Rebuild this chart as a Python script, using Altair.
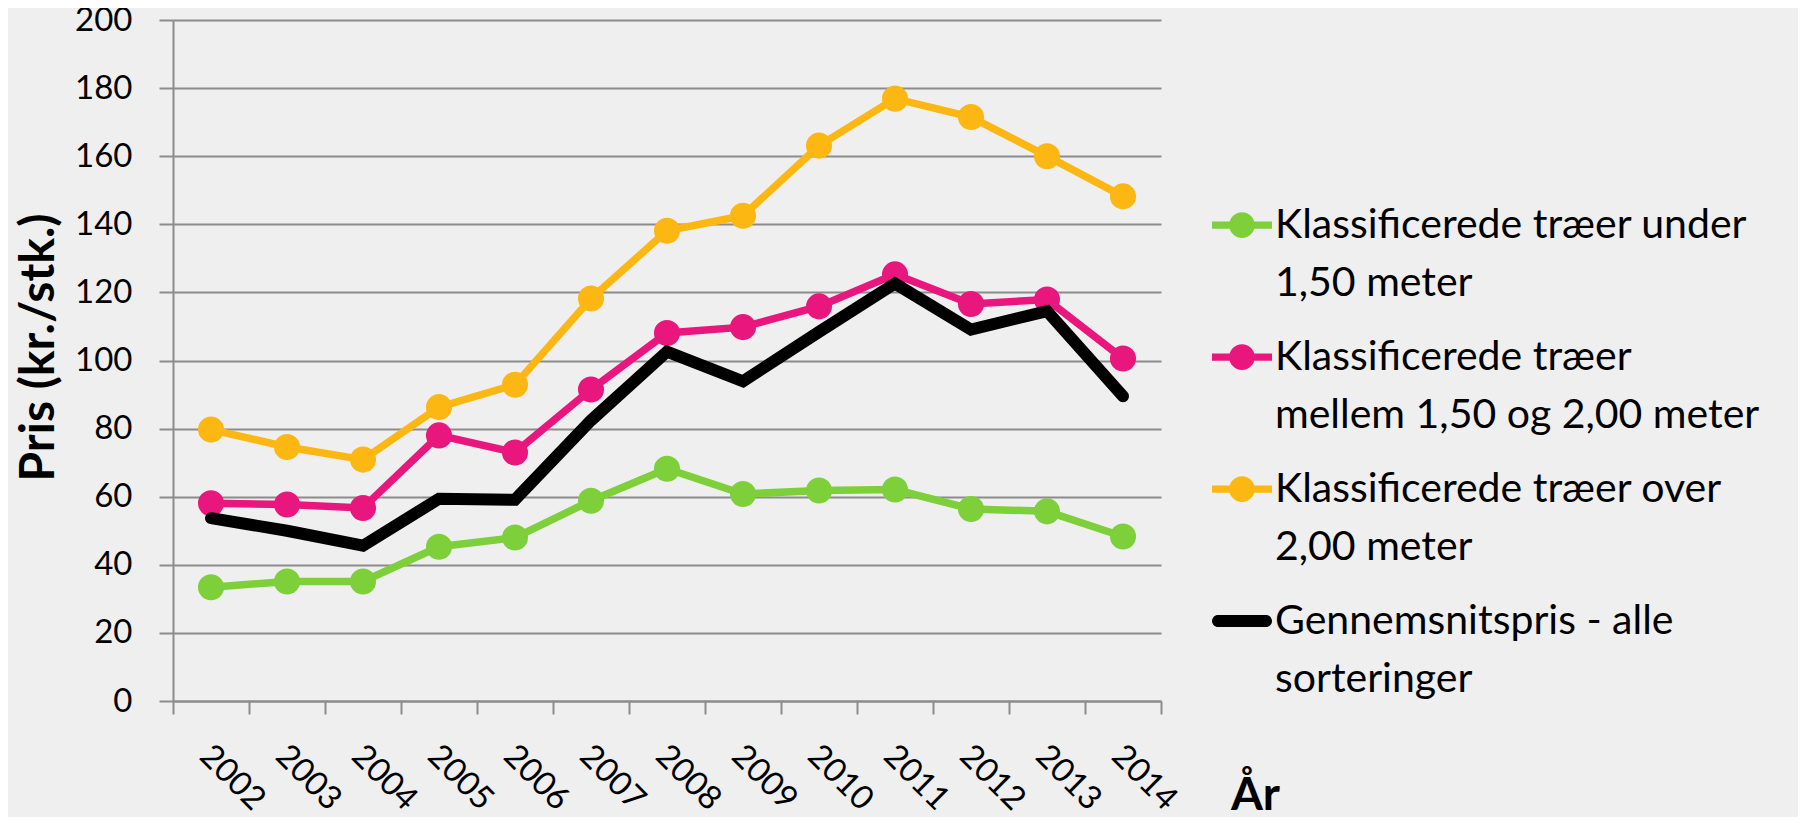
import altair as alt
import pandas as pd
import json

# ---- data ----
years = list(range(2002, 2015))

series_names = [
    "Klassificerede træer under 1,50 meter",
    "Klassificerede træer mellem 1,50 og 2,00 meter",
    "Klassificerede træer over 2,00 meter",
    "Gennemsnitspris - alle sorteringer",
]
legend_lines = [
    ["Klassificerede træer under", "1,50 meter"],
    ["Klassificerede træer", "mellem 1,50 og 2,00 meter"],
    ["Klassificerede træer over", "2,00 meter"],
    ["Gennemsnitspris - alle", "sorteringer"],
]

under_150 = [33.4, 35.1, 35.1, 45.3, 48.0, 58.8, 68.2, 60.8, 61.8, 62.1, 56.4, 55.7, 48.3]
mellem_150_200 = [58.1, 57.7, 56.7, 78.0, 73.0, 91.5, 108.1, 109.8, 115.9, 125.3, 116.6, 117.9, 100.6]
over_200 = [79.7, 74.6, 70.9, 86.3, 92.9, 118.2, 138.1, 142.5, 163.1, 176.9, 171.5, 160.0, 148.2]
gennemsnit = [53.7, 50.0, 45.6, 59.4, 59.1, 82.4, 102.6, 93.9, 108.4, 122.6, 109.1, 114.5, 89.5]

colors = ["#7ED03B", "#E9177D", "#FDB713", "#000000"]

y_ticks = list(range(0, 201, 20))

# ---- table ----
rows = []
for name, vals in zip(series_names, [under_150, mellem_150_200, over_200, gennemsnit]):
    for yr, v in zip(years, vals):
        rows.append({"year": yr, "value": v, "series": name})
df = pd.DataFrame(rows)

avg_name = series_names[3]

# legend symbol shapes (line with a dot / thick line)
dot_line = ("M-1,-0.55 L1,-0.55 L1,-0.31 L-1,-0.31 Z "
            "M0.43,-0.43 A0.43,0.43 0 1,1 -0.43,-0.43 A0.43,0.43 0 1,1 0.43,-0.43 Z")
thick_line = ("M-0.8,-0.63 L0.8,-0.63 A0.2,0.2 0 0,1 0.8,-0.23 L-0.8,-0.23 "
              "A0.2,0.2 0 0,1 -0.8,-0.63 Z")
shapes = [dot_line, dot_line, dot_line, thick_line]

label_expr = ""
for name, lines in zip(series_names[:-1], legend_lines[:-1]):
    label_expr += "datum.value == %s ? %s : " % (json.dumps(name), json.dumps(lines, ensure_ascii=False))
label_expr += json.dumps(legend_lines[-1], ensure_ascii=False)

# data-layer colour scale (listed in reverse so it is kept apart from the legend's scales)
color_scale = alt.Scale(domain=series_names[::-1], range=colors[::-1])

x_enc = alt.X(
    "year:Q",
    scale=alt.Scale(domain=[years[0] - 0.5, years[-1] + 0.5], nice=False, zero=False),
    axis=alt.Axis(
        values=[y - 0.5 for y in years] + [years[-1] + 0.5],
        labelExpr="datum.value > %d ? '' : format(datum.value + 0.5, 'd')" % years[-1],
        labelOffset=43,
        labelAngle=45,
        labelAlign="left",
        labelBaseline="top",
        labelPadding=25,
        labelOverlap=False,
        labelFlush=False,
        labelFontSize=33,
        tickSize=13,
        grid=False,
        title="År",
        titleX=1082,
        titleY=108,
        titleAlign="center",
        titleBaseline="alphabetic",
        titleFontSize=46,
        titleFontWeight="bold",
    ),
)
y_enc = alt.Y(
    "value:Q",
    scale=alt.Scale(domain=[0, 200], nice=False),
    axis=alt.Axis(
        values=y_ticks,
        tickSize=14,
        labelPadding=27,
        labelBaseline="middle",
        labelFontSize=33,
        grid=True,
        title="Pris (kr./stk.)",
        titleX=-134,
        titleY=327,
        titleAngle=270,
        titleAlign="center",
        titleBaseline="middle",
        titleFontSize=48,
        titleFontWeight="bold",
    ),
)

base = alt.Chart(df).encode(x=x_enc, y=y_enc)

colored = base.transform_filter(alt.datum.series != avg_name)

lines = colored.mark_line(strokeWidth=7.5).encode(
    color=alt.Color("series:N", scale=color_scale, legend=None)
)
points = colored.mark_circle(size=680, opacity=1).encode(
    color=alt.Color("series:N", scale=color_scale, legend=None)
)
avg_line = base.transform_filter(alt.datum.series == avg_name).mark_line(
    strokeWidth=12, strokeCap="round"
).encode(color=alt.Color("series:N", scale=color_scale, legend=None))

legend = alt.Legend(
    orient="none",
    legendX=1039,
    legendY=188,
    padding=0,
    title=None,
    labelFont="Lato",
    labelFontSize=41,
    labelColor="#000000",
    labelBaseline="alphabetic",
    labelOffset=3,
    labelLimit=2000,
    labelExpr=label_expr,
    symbolSize=3600,
    symbolStrokeWidth=0,
    symbolOpacity=1,
    rowPadding=33,
)
# legend-only layer: invisible marks, the legend carries the series styling
legend_layer = base.mark_point(filled=True, opacity=0).encode(
    fill=alt.Fill("series:N", scale=alt.Scale(domain=series_names, range=colors), legend=legend),
    shape=alt.Shape("series:N", scale=alt.Scale(domain=series_names, range=shapes), legend=legend),
)

chart = (
    alt.layer(lines, points, avg_line, legend_layer)
    .properties(
        width=988,
        height=681,
        background="#efefef",
        autosize=alt.AutoSizeParams(type="none"),
        padding={"left": 165, "top": 12, "right": 637, "bottom": 116},
    )
    .configure(style={"guide-label": {"lineHeight": 58}})
    .configure_view(strokeWidth=0)
    .configure_axis(
        domainColor="#8c8c8c",
        domainWidth=2,
        tickColor="#8c8c8c",
        tickWidth=2,
        gridColor="#8c8c8c",
        gridWidth=2,
        gridOpacity=1,
        labelColor="#000000",
        labelFont="Lato",
        titleFont="Lato",
        titleColor="#000000",
    )
)

chart.save("out.html", embed_options={"renderer": "svg", "actions": False})
